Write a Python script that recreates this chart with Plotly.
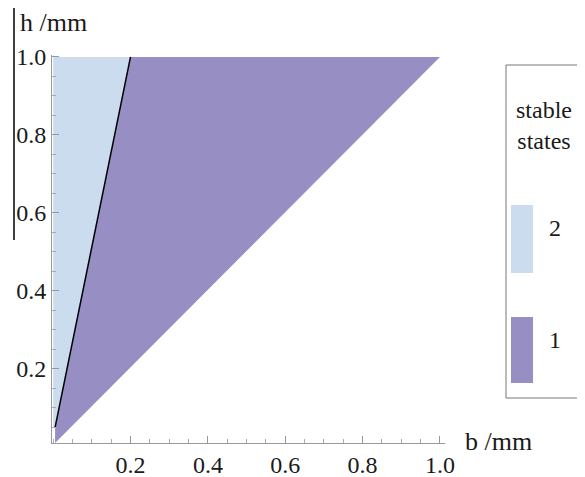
import plotly.graph_objects as go

# Region boundaries (b, h) in mm
region2_b = [0.005, 0.2, 0.0, 0.0]
region2_h = [0.05, 1.0, 1.0, 0.05]
region1_b = [0.005, 1.0, 0.2, 0.005]
region1_h = [0.01, 1.0, 1.0, 0.05]
boundary_b = [0.005, 0.2]
boundary_h = [0.05, 1.0]
tick_vals = [0.2, 0.4, 0.6, 0.8, 1.0]
tick_text = ["0.2", "0.4", "0.6", "0.8", "1.0"]
legend_labels = ["2", "1"]

c2 = "#cbdcee"
c1 = "#978ec4"
FONT = "Liberation Serif"
TXT = "#1a1a1a"

fig = go.Figure()
fig.add_trace(go.Scatter(x=region2_b, y=region2_h, fill="toself", fillcolor=c2,
                         mode="lines", line=dict(width=0, color=c2), hoverinfo="skip"))
fig.add_trace(go.Scatter(x=region1_b, y=region1_h, fill="toself", fillcolor=c1,
                         mode="lines", line=dict(width=0, color=c1), hoverinfo="skip"))
fig.add_trace(go.Scatter(x=boundary_b, y=boundary_h, mode="lines",
                         line=dict(width=1.5, color="black"), hoverinfo="skip"))

# the page body has an 8px margin, so the figure sits at (8, 8) in the window
OFF = 8
W, H = 585 - OFF, 477 - OFF
L, R, T, B = 52 - OFF, 140, 55 - OFF, 34
pw, ph = W - L - R, H - T - B

def px(x):  # window pixel -> paper
    return (x - OFF - L) / pw

def py(y):
    return (H - B - (y - OFF)) / ph

axis_common = dict(
    showgrid=False, zeroline=False, showline=True, linecolor="#999999", linewidth=1,
    ticks="inside", ticklen=7, tickcolor="#999999", tickwidth=1,
    tickvals=tick_vals, ticktext=tick_text, automargin=False,
    tickfont=dict(family=FONT, size=24, color=TXT),
    minor=dict(ticks="inside", ticklen=4, tickcolor="#aaaaaa", dtick=0.05, tick0=0, showgrid=False),
)

fig.update_layout(
    width=W, height=H,
    margin=dict(l=L, r=R, t=T, b=B),
    plot_bgcolor="white", paper_bgcolor="white",
    showlegend=False,
    xaxis=dict(range=[-0.003, 1.013], **axis_common),
    yaxis=dict(range=[0.01, 1.005], **axis_common),
    font=dict(family=FONT, color=TXT),
)

shapes = []
# vertical black line at far left
shapes.append(dict(type="line", xref="paper", yref="paper", x0=px(14), x1=px(14), y0=py(0), y1=py(240),
                   line=dict(color="black", width=1.5)))
# legend frame
shapes.append(dict(type="rect", xref="paper", yref="paper", x0=px(506), x1=px(578), y0=py(398), y1=py(65),
                   line=dict(color="#777777", width=1), fillcolor="white"))
# swatches
shapes.append(dict(type="rect", xref="paper", yref="paper", x0=px(511), x1=px(533), y0=py(273), y1=py(205),
                   line=dict(width=0), fillcolor=c2))
shapes.append(dict(type="rect", xref="paper", yref="paper", x0=px(511), x1=px(533), y0=py(383), y1=py(317),
                   line=dict(width=0), fillcolor=c1))
fig.update_layout(shapes=shapes)

ann = []
ann.append(dict(text="h /mm", xref="paper", yref="paper", x=px(18), y=py(22), xanchor="left", yanchor="middle",
                showarrow=False, font=dict(family=FONT, size=26, color=TXT)))
ann.append(dict(text="b /mm", xref="paper", yref="paper", x=px(463), y=py(441), xanchor="left", yanchor="middle",
                showarrow=False, font=dict(family=FONT, size=26, color=TXT)))
ann.append(dict(text="stable<br>states", xref="paper", yref="paper", x=px(544), y=py(125), xanchor="center",
                yanchor="middle", showarrow=False, align="center",
                font=dict(family=FONT, size=24, color=TXT)))
ann.append(dict(text=legend_labels[0], xref="paper", yref="paper", x=px(555), y=py(228), xanchor="center",
                yanchor="middle", showarrow=False, font=dict(family=FONT, size=24, color=TXT)))
ann.append(dict(text=legend_labels[1], xref="paper", yref="paper", x=px(555), y=py(340), xanchor="center",
                yanchor="middle", showarrow=False, font=dict(family=FONT, size=24, color=TXT)))
fig.update_layout(annotations=ann)

fig.write_html("out.html")
